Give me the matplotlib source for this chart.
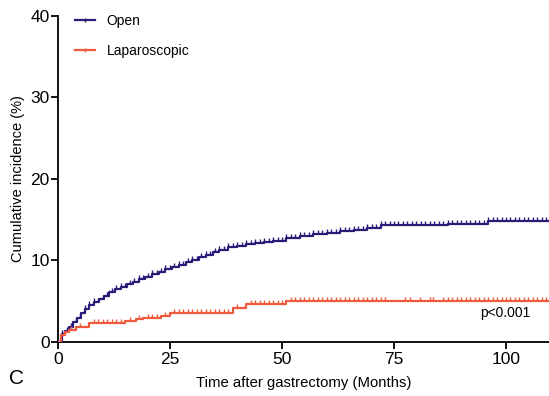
import matplotlib.pyplot as plt
import numpy as np
from matplotlib.lines import Line2D

plt.rcParams['font.family'] = ['Liberation Sans', 'DejaVu Sans']

# cumulative incidence step curves (months, %)
open_t = [0, 0.8, 1.5, 2.5, 3.3, 4.2, 5.2, 6.0, 7.0, 8.0, 9.2, 10.3, 11.5, 12.7,
          14, 15.3, 16.7, 18, 19.5, 21, 22.5, 24, 25.5, 27, 28.5, 30, 31.5, 33,
          34.5, 36, 38, 40, 42, 44, 46, 48, 51, 54, 57, 60, 63, 66, 69, 72, 87, 96]
open_v = [0, 1.0, 1.4, 1.9, 2.4, 2.9, 3.6, 4.0, 4.5, 4.9, 5.3, 5.7, 6.1, 6.5,
          6.8, 7.1, 7.4, 7.7, 8.0, 8.3, 8.6, 8.9, 9.2, 9.5, 9.8, 10.1, 10.4, 10.7,
          11.0, 11.3, 11.6, 11.8, 12.0, 12.15, 12.3, 12.4, 12.8, 13.0, 13.2, 13.4,
          13.6, 13.8, 14.0, 14.3, 14.5, 14.8]

lap_t = [0, 0.6, 1.5, 2.5, 4.0, 7.0, 15.0, 17.5, 19.0, 23.0, 25.0, 39.0, 42.0, 51.0]
lap_v = [0, 0.9, 1.2, 1.5, 1.8, 2.3, 2.6, 2.8, 3.0, 3.2, 3.5, 4.2, 4.6, 5.05]

# censoring times
open_cens = [1, 2, 3, 4, 5, 6, 7, 8, 9, 10, 11, 12, 13, 14, 15, 16, 17, 18, 19,
             20, 21, 22, 23, 24, 25, 26, 27, 28, 29, 30, 31, 32, 33, 34, 35, 36,
             37, 38, 39, 40, 41, 42, 43, 44, 45, 46, 47, 48, 49, 50, 51, 52, 53,
             54, 55, 56, 57, 58, 59, 60, 61, 62, 63, 64, 65, 66, 67, 68, 69, 70,
             71, 72, 73, 74, 75, 76, 77, 78, 79, 80, 81, 82, 83, 84, 85, 86, 87,
             88, 89, 90, 91, 92, 93, 94, 95, 96, 97, 98, 99, 100, 101, 102, 103,
             104, 105, 106, 107, 108, 109]
lap_cens = [3, 5, 8, 9, 10, 11, 12, 13, 14, 16, 18, 20, 21, 22, 24, 26, 27, 28,
            29, 30, 31, 32, 33, 34, 35, 36, 37, 38, 40, 43, 44, 45, 46, 47, 48,
            49, 50, 52, 53, 54, 55, 56, 57, 58, 59, 60, 61, 62, 63, 64, 65, 66,
            67, 68, 69, 70, 71, 72, 73, 77.5, 78.6, 80.8, 83, 83.8, 86, 87, 88,
            89, 90, 91, 92, 93, 94, 95, 96, 97, 98, 99, 100, 101, 102, 103, 104,
            105, 106, 107, 108, 109]

blue = '#2c1a78'
red = '#f05a3c'

fig = plt.figure(figsize=(5.49, 3.96), dpi=100)
ax = fig.add_axes([0.1056, 0.1364, 0.8944, 0.8232])


def draw(t, v, cens, color):
    t = np.array(t + [110.0])
    v = np.array(v + [v[-1]])
    ax.step(t, v, where='post', color=color, lw=1.6, zorder=3)
    c = np.array(cens, dtype=float)
    cv = v[np.searchsorted(t, c, side='right') - 1]
    ax.plot(c, cv, linestyle='none', marker=2, markersize=2.6,
            markeredgewidth=1.0, color=color, zorder=3)


draw(open_t, open_v, open_cens, blue)
draw(lap_t, lap_v, lap_cens, red)

ax.set_xlim(0, 109.6)
ax.set_ylim(0, 40)
ax.set_xticks([0, 25, 50, 75, 100])
ax.set_yticks([0, 10, 20, 30, 40])
for s in ['top', 'right']:
    ax.spines[s].set_visible(False)
for s in ['left', 'bottom']:
    ax.spines[s].set_linewidth(1.3)
ax.tick_params(width=1.3, length=5, labelsize=12.5, pad=1)
ax.tick_params(axis='x', pad=2)
ax.set_xlabel('Time after gastrectomy (Months)', fontsize=10.7, labelpad=7)
ax.set_ylabel('Cumulative incidence (%)', fontsize=10.5, labelpad=4)

handles = [Line2D([], [], color=blue, lw=1.6, marker='|', markersize=3),
           Line2D([], [], color=red, lw=1.6, marker='|', markersize=3)]
ax.legend(handles, ['Open', 'Laparoscopic'], loc='upper left',
          bbox_to_anchor=(0.01, 1.045), frameon=False, fontsize=10,
          handlelength=1.4, handletextpad=0.85, labelspacing=1.16)

ax.text(99.8, 3.6, 'p<0.001', ha='center', va='center', fontsize=10)
fig.text(0.016, 0.03, 'C', fontsize=15)

fig.savefig('out.png', dpi=100)
